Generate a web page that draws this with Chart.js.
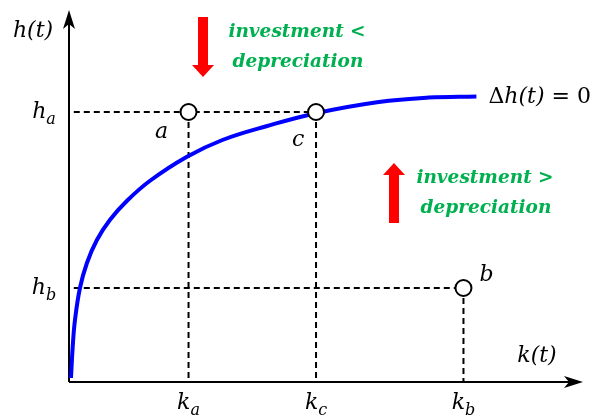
<!DOCTYPE html>
<html>
<head>
<meta charset="utf-8">
<script src="https://cdn.jsdelivr.net/npm/chart.js@4.4.1/dist/chart.umd.min.js"></script>
<style>
  html, body { margin: 0; padding: 0; background: #fff; }
  canvas { display: block; }
</style>
</head>
<body>
<canvas id="chart" width="593" height="416"></canvas>
<script>
// steady-state curve Δh(t) = 0
const curveK = [0.05, 0.0925, 0.15, 0.275, 0.45, 0.7, 1.025, 1.45, 2.025, 2.95, 3.85, 4.975, 6.2, 7.775, 9.025, 10.225];
const curveH = [0.1, 0.875, 1.55, 2.35, 2.975, 3.55, 4.05, 4.525, 5.025, 5.625, 6.05, 6.4, 6.72, 7.0, 7.11, 7.14];

// marked points a, c, b
const pointNames = ['a', 'c', 'b'];
const pointK = [3.0, 6.2, 9.9];
const pointH = [6.75, 6.75, 2.35];

// tick labels (main letter + subscript)
const kTicks = [['k', 'a'], ['k', 'c'], ['k', 'b']];
const hTicks = [['h', 'a'], ['h', 'b']];
const hTickValues = [6.75, 2.35];

const GREEN = '#00B050';
const SERIF = "'DejaVu Serif', serif";
const MATH = 22;

const ctx = document.getElementById('chart').getContext('2d');

/* DASHED GUIDES */
const dashed = (data) => ({
  data,
  showLine: true,
  borderColor: '#000',
  borderWidth: 2,
  borderDash: [6, 4],
  pointRadius: 0,
  order: 3,
});

const guides = [
  dashed([{ x: 0.12, y: pointH[0] }, { x: pointK[1], y: pointH[1] }]),
  dashed([{ x: 0.12, y: pointH[2] }, { x: pointK[2], y: pointH[2] }]),
  dashed([{ x: pointK[0], y: pointH[0] }, { x: pointK[0], y: 0 }]),
  dashed([{ x: pointK[1], y: pointH[1] }, { x: pointK[1], y: 0 }]),
  dashed([{ x: pointK[2], y: pointH[2] }, { x: pointK[2], y: 0 }]),
];

/* PLUGINS */

function subText(c, main, sub, x, y, size) {
  const subSize = Math.round(size * 0.72);
  c.textBaseline = 'alphabetic';
  c.textAlign = 'left';
  c.font = `italic ${size}px ${SERIF}`;
  const w1 = c.measureText(main).width;
  c.font = `italic ${subSize}px ${SERIF}`;
  const w2 = c.measureText(sub).width;
  const x0 = x - (w1 + w2) / 2;
  c.font = `italic ${size}px ${SERIF}`;
  c.fillText(main, x0, y);
  c.font = `italic ${subSize}px ${SERIF}`;
  c.fillText(sub, x0 + w1, y + size * 0.25);
}

function arrow(c, cx, yFrom, yTo) {
  // block arrow, tip at yTo
  const dir = yTo > yFrom ? 1 : -1;
  const baseY = yTo - dir * 12;
  c.fillStyle = '#ff0000';
  c.beginPath();
  c.moveTo(cx - 5, yFrom);
  c.lineTo(cx + 5, yFrom);
  c.lineTo(cx + 5, baseY);
  c.lineTo(cx + 11, baseY);
  c.lineTo(cx, yTo);
  c.lineTo(cx - 11, baseY);
  c.lineTo(cx - 5, baseY);
  c.closePath();
  c.fill();
}

const decorations = {
  id: 'decorations',
  beforeDatasetsDraw(chart) {
    const { ctx: c, chartArea, scales: { x, y } } = chart;
    const ox = x.getPixelForValue(0);
    const oy = y.getPixelForValue(0);
    c.save();
    c.strokeStyle = '#000';
    c.fillStyle = '#000';
    c.lineWidth = 2;
    // axes
    c.beginPath();
    c.moveTo(ox, oy);
    c.lineTo(chartArea.right - 8, oy);
    c.moveTo(ox, oy);
    c.lineTo(ox, chartArea.top + 8);
    c.stroke();
    // stealth arrow heads
    const tipX = chartArea.right;
    c.beginPath();
    c.moveTo(tipX, oy);
    c.lineTo(tipX - 19, oy - 6);
    c.lineTo(tipX - 14, oy);
    c.lineTo(tipX - 19, oy + 6);
    c.closePath();
    c.fill();
    const tipY = chartArea.top;
    c.beginPath();
    c.moveTo(ox, tipY);
    c.lineTo(ox - 6, tipY + 19);
    c.lineTo(ox, tipY + 14);
    c.lineTo(ox + 6, tipY + 19);
    c.closePath();
    c.fill();
    c.restore();
  },
  afterDatasetsDraw(chart) {
    const { ctx: c, scales: { x, y } } = chart;
    const oy = y.getPixelForValue(0);
    const ox = x.getPixelForValue(0);
    c.save();
    c.fillStyle = '#000';

    // axis titles
    c.font = `italic ${MATH}px ${SERIF}`;
    c.textAlign = 'center';
    c.textBaseline = 'middle';
    c.fillText('h(t)', 33, 31);
    c.fillText('k(t)', 537, 356);

    // tick labels
    kTicks.forEach(([m, s], i) => {
      subText(c, m, s, x.getPixelForValue(pointK[i]), oy + 27, MATH);
    });
    hTicks.forEach(([m, s], i) => {
      subText(c, m, s, ox - 25, y.getPixelForValue(hTickValues[i]) + 6, MATH);
    });

    // point names
    c.font = `italic ${MATH}px ${SERIF}`;
    c.textAlign = 'center';
    c.textBaseline = 'middle';
    const offs = [[-27, 20], [-18, 28], [23, -13]];
    pointNames.forEach((n, i) => {
      c.fillText(n, x.getPixelForValue(pointK[i]) + offs[i][0], y.getPixelForValue(pointH[i]) + offs[i][1]);
    });

    // curve label
    const last = curveK.length - 1;
    const lx = x.getPixelForValue(curveK[last]) + 12;
    const ly = y.getPixelForValue(curveH[last]) + 1;
    c.textAlign = 'left';
    c.font = `${MATH}px ${SERIF}`;
    c.fillText('Δ', lx, ly);
    let w = c.measureText('Δ').width;
    c.font = `italic ${MATH}px ${SERIF}`;
    c.fillText('h(t)', lx + w, ly);
    w += c.measureText('h(t)').width;
    c.font = `${MATH}px ${SERIF}`;
    c.fillText(' = 0', lx + w, ly);

    // investment vs depreciation
    arrow(c, 203, 17, 77);
    arrow(c, 394, 223, 163);
    c.fillStyle = GREEN;
    c.font = `bold italic 18.5px ${SERIF}`;
    c.textAlign = 'center';
    c.fillText('investment <', 297, 32);
    c.fillText('depreciation', 298, 62);
    c.fillText('investment >', 485, 178);
    c.fillText('depreciation', 486, 208);
    c.restore();
  },
};

/* CHART */

const chart = new Chart(ctx, {
  type: 'scatter',
  data: {
    datasets: [
      {
        data: curveK.map((k, i) => ({ x: k, y: curveH[i] })),
        showLine: true,
        borderColor: '#0000ff',
        borderWidth: 4,
        tension: 0.4,
        pointRadius: 0,
        order: 2,
      },
      ...guides,
      {
        data: pointK.map((k, i) => ({ x: k, y: pointH[i] })),
        pointRadius: 8,
        pointBackgroundColor: '#fff',
        pointBorderColor: '#000',
        pointBorderWidth: 2,
        order: 1,
      },
    ],
  },
  options: {
    responsive: false,
    animation: false,
    devicePixelRatio: 1,
    layout: { padding: { left: 69, right: 7, top: 10, bottom: 34 } },
    scales: {
      x: { display: false, min: 0, max: 12.9 },
      y: { display: false, min: 0, max: 9.3 },
    },
    plugins: {
      legend: { display: false },
      tooltip: { enabled: false },
    },
  },
  plugins: [decorations],
});
</script>
</body>
</html>
